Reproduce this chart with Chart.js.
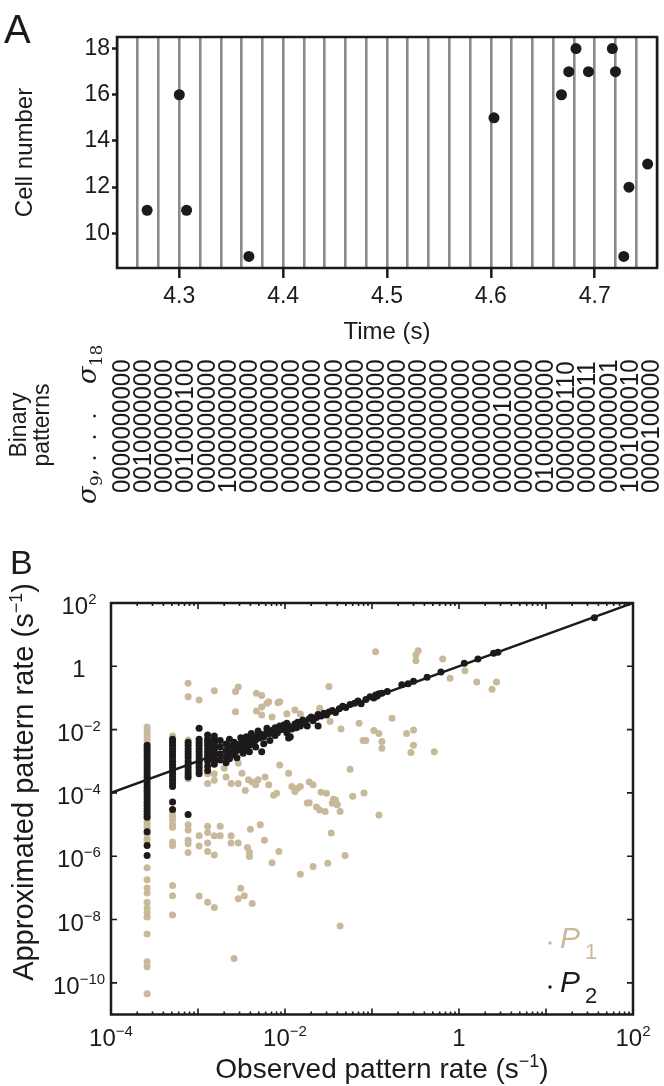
<!DOCTYPE html>
<html>
<head>
<meta charset="utf-8">
<script src="https://cdn.jsdelivr.net/npm/chart.js@4.4.1/dist/chart.umd.min.js"></script>
<style>
  html, body { margin: 0; padding: 0; background: #fff; }
  #page { position: relative; width: 664px; height: 1086px; overflow: hidden; }
  #wrapA { position: absolute; left: 0; top: 0; width: 664px; height: 520px; }
  #wrapB { position: absolute; left: 0; top: 540px; width: 664px; height: 546px; }
</style>
</head>
<body>
<div id="page">
  <div id="wrapA"><canvas id="chartA"></canvas></div>
  <div id="wrapB"><canvas id="chartB"></canvas></div>
</div>
<script>
// ---- panel A data ----
const spikeTimes = [4.269, 4.300, 4.307, 4.367, 4.603, 4.668, 4.675, 4.682, 4.694, 4.717, 4.720, 4.728, 4.733, 4.751];
const spikeCells = [11, 16, 11, 9, 15, 16, 17, 18, 17, 18, 17, 9, 12, 13];
const binEdges = [4.24, 4.26, 4.28, 4.30, 4.32, 4.34, 4.36, 4.38, 4.40, 4.42, 4.44, 4.46, 4.48,
                  4.50, 4.52, 4.54, 4.56, 4.58, 4.60, 4.62, 4.64, 4.66, 4.68, 4.70, 4.72, 4.74, 4.76];
const timeTickLabels = [4.3, 4.4, 4.5, 4.6, 4.7];
const cellTicks = [10, 12, 14, 16, 18];
// one string per bin, sigma_9 ... sigma_18
const binaryPatterns = [
  "0000000000", "0010000000", "0000000000", "0010000100", "0000000000", "1000000000",
  "0000000000", "0000000000", "0000000000", "0000000000", "0000000000", "0000000000",
  "0000000000", "0000000000", "0000000000", "0000000000", "0000000000", "0000000000",
  "0000001000", "0000000000", "0100000000", "0000000110", "0000000011", "0000000001",
  "1001000010", "0000100000"
];

// ---- panel B data ----
const rateTicksX = [1e-4, 1e-3, 1e-2, 1e-1, 1, 1e1, 1e2];
const rateLabelsX = [1e-4, 1e-2, 1, 1e2];
const rateTicksY = [1e2, 1, 1e-2, 1e-4, 1e-6, 1e-8, 1e-10];
const fitLine = [[1e-4, 1e-4], [1e2, 1e2]];

const p2Points = [
  [2.6e-4, 3.2e-3], [2.6e-4, 2.6e-3], [2.6e-4, 2.1e-3], [2.6e-4, 1.7e-3], [2.6e-4, 1.4e-3], [2.6e-4, 1.1e-3],
  [2.6e-4, 9e-4], [2.6e-4, 7.2e-4], [2.6e-4, 5.8e-4], [2.6e-4, 4.6e-4], [2.6e-4, 3.7e-4], [2.6e-4, 3e-4],
  [2.6e-4, 2.4e-4], [2.6e-4, 1.9e-4], [2.6e-4, 1.5e-4], [2.6e-4, 1.2e-4], [2.6e-4, 1e-4], [2.6e-4, 8e-5],
  [2.6e-4, 6.4e-5], [2.6e-4, 5.1e-5], [2.6e-4, 4.1e-5], [2.6e-4, 3.3e-5], [2.6e-4, 2.6e-5], [2.6e-4, 2.1e-5],
  [2.6e-4, 1.7e-5], [2.6e-4, 5.9e-6], [2.6e-4, 2.2e-6], [2.6e-4, 1.05e-6],
  [5.1e-4, 5e-3], [5.1e-4, 4e-3], [5.1e-4, 3.2e-3], [5.1e-4, 2.5e-3], [5.1e-4, 2e-3], [5.1e-4, 1.6e-3],
  [5.1e-4, 1.3e-3], [5.1e-4, 1e-3], [5.1e-4, 8e-4], [5.1e-4, 6.3e-4], [5.1e-4, 5e-4], [5.1e-4, 4e-4],
  [5.1e-4, 3.2e-4], [5.1e-4, 2.5e-4], [5.1e-4, 2e-4], [5.1e-4, 1.6e-4], [5.1e-4, 5.2e-5], [5.1e-4, 3e-5],
  [7.7e-4, 4e-3], [7.7e-4, 3.2e-3], [7.7e-4, 2.5e-3], [7.7e-4, 2e-3], [7.7e-4, 1.6e-3], [7.7e-4, 1.3e-3],
  [7.7e-4, 1e-3], [7.7e-4, 8e-4], [7.7e-4, 6.3e-4], [7.7e-4, 5e-4], [7.7e-4, 4e-4], [7.7e-4, 3.2e-4], [7.7e-4, 2.1e-5],
  [1.03e-3, 1.1e-2], [1.03e-3, 5e-3], [1.03e-3, 4e-3], [1.03e-3, 3.2e-3], [1.03e-3, 2.5e-3], [1.03e-3, 2e-3],
  [1.03e-3, 1.6e-3], [1.03e-3, 1.3e-3], [1.03e-3, 1e-3], [1.03e-3, 8e-4], [1.03e-3, 6.3e-4], [1.03e-3, 5e-4], [1.03e-3, 4e-4],
  [1.29e-3, 6.8e-3], [1.29e-3, 5e-3], [1.29e-3, 4e-3], [1.29e-3, 3.2e-3], [1.29e-3, 2.5e-3], [1.29e-3, 2e-3],
  [1.29e-3, 1.6e-3], [1.29e-3, 1.3e-3], [1.29e-3, 1e-3], [1.29e-3, 7e-4], [1.29e-3, 5e-4],
  [1.54e-3, 6.3e-3], [1.54e-3, 5e-3], [1.54e-3, 4e-3], [1.54e-3, 3.2e-3], [1.54e-3, 2.5e-3], [1.54e-3, 2e-3],
  [1.54e-3, 1.6e-3], [1.54e-3, 1.3e-3], [1.54e-3, 1e-3], [1.54e-3, 8e-4],
  [1.8e-3, 4.5e-3], [1.8e-3, 2.8e-3], [1.8e-3, 1.7e-3], [1.8e-3, 1.1e-3], [2.1e-3, 3.5e-3], [2.1e-3, 2.2e-3],
  [2.1e-3, 1.4e-3], [2.1e-3, 9e-4], [2.3e-3, 5e-3], [2.3e-3, 3e-3], [2.3e-3, 1.9e-3], [2.3e-3, 1.2e-3],
  [2.6e-3, 4e-3], [2.6e-3, 2.6e-3], [2.6e-3, 1.6e-3], [2.8e-3, 3.4e-3], [2.8e-3, 2.2e-3], [2.8e-3, 1.3e-3],
  [3.1e-3, 5.5e-3], [3.1e-3, 3.6e-3], [3.1e-3, 2.4e-3], [3.3e-3, 4.2e-3], [3.3e-3, 2.9e-3], [3.3e-3, 1.8e-3],
  [3.6e-3, 6e-3], [3.6e-3, 3.8e-3], [3.6e-3, 2.5e-3], [3.9e-3, 4.6e-3], [3.9e-3, 3.2e-3], [3.9e-3, 2e-3],
  [4.1e-3, 7.5e-3], [4.1e-3, 5e-3], [4.4e-3, 5.8e-3], [4.4e-3, 3.9e-3], [4.6e-3, 4.8e-3], [4.6e-3, 2.8e-3],
  [4.9e-3, 6.5e-3], [4.9e-3, 9e-3], [5.1e-3, 5.4e-3], [5.4e-3, 7e-3], [5.4e-3, 2e-3], [5.7e-3, 6e-3],
  [5.7e-3, 3.6e-3], [6.2e-3, 8.5e-3], [6.2e-3, 1.1e-2], [6.7e-3, 7.5e-3], [6.7e-3, 4.5e-3], [7.2e-3, 9.5e-3],
  [7.7e-3, 1.15e-2], [7.7e-3, 6.5e-3], [8.2e-3, 8e-3], [8.7e-3, 1.3e-2], [9.2e-3, 1e-2], [9.7e-3, 1.4e-2],
  [1.0e-2, 1.1e-2], [1.05e-2, 8e-3], [1.05e-2, 1.6e-2], [1.1e-2, 1.3e-2], [1.1e-2, 5.4e-3], [1.15e-2, 6e-3],
  [1.2e-2, 1.05e-2], [1.3e-2, 1.5e-2], [1.35e-2, 1.15e-2], [1.4e-2, 1.7e-2], [1.5e-2, 1.3e-2], [1.6e-2, 2e-2],
  [1.7e-2, 1.6e-2], [1.8e-2, 1.3e-2], [1.9e-2, 2.2e-2], [2e-2, 2.5e-2], [2.1e-2, 1.9e-2], [2.3e-2, 2.4e-2],
  [2.4e-2, 3e-2], [2.4e-2, 1.3e-2], [2.6e-2, 2.7e-2], [2.8e-2, 3.3e-2], [3e-2, 2.9e-2], [3.2e-2, 3.6e-2],
  [3.5e-2, 4e-2], [3.8e-2, 3.5e-2], [4.2e-2, 4.6e-2], [4.6e-2, 5.5e-2], [5e-2, 5e-2], [5.6e-2, 6.2e-2],
  [6.3e-2, 6.8e-2], [6.9e-2, 8e-2], [7.5e-2, 6.6e-2], [8.5e-2, 9e-2], [9.5e-2, 1.1e-1], [1.05e-1, 1e-1],
  [1.1e-1, 1.25e-1], [1.15e-1, 1.15e-1], [1.2e-1, 1.35e-1], [1.3e-1, 1.4e-1], [1.5e-1, 1.6e-1], [2.2e-1, 2.6e-1],
  [2.6e-1, 2.8e-1], [3e-1, 3.4e-1], [4.3e-1, 4.5e-1], [6.2e-1, 6.6e-1], [1.15, 1.25], [1.65, 1.7],
  [2.5, 2.6], [2.8, 2.8], [36, 34]
];

const p1Points = [
  [2.6e-4, 1.2e-2], [2.6e-4, 1e-2], [2.6e-4, 7.9e-3], [2.6e-4, 6.3e-3], [2.6e-4, 5e-3], [2.6e-4, 3.8e-3],
  [2.6e-4, 1.6e-5], [2.6e-4, 1.26e-5], [2.6e-4, 1e-5], [2.6e-4, 7.9e-6], [2.6e-4, 5e-6], [2.6e-4, 3.5e-6],
  [2.6e-4, 2.8e-6], [2.6e-4, 4.3e-7], [2.6e-4, 1.8e-7], [2.6e-4, 1e-7], [2.6e-4, 6.9e-8], [2.6e-4, 3.5e-8],
  [2.6e-4, 2.3e-8], [2.6e-4, 1.7e-8], [2.6e-4, 1.2e-8], [2.6e-4, 3.5e-9], [2.6e-4, 4.6e-10], [2.6e-4, 3.2e-10],
  [2.6e-4, 4.5e-11],
  [5.1e-4, 6.3e-3], [5.1e-4, 2.3e-5], [5.1e-4, 1.8e-5], [5.1e-4, 1.4e-5], [5.1e-4, 1e-5], [5.1e-4, 8.3e-6],
  [5.1e-4, 2.8e-6], [5.1e-4, 2.2e-6], [5.1e-4, 1.2e-7], [5.1e-4, 5.6e-8], [5.1e-4, 1.4e-8],
  [7.7e-4, 0.29], [7.7e-4, 0.11], [7.7e-4, 4.7e-3], [7.7e-4, 3.5e-4], [7.7e-4, 2.8e-4], [7.7e-4, 9.8e-6],
  [7.7e-4, 6.8e-6], [7.7e-4, 3.2e-6], [7.7e-4, 2.5e-6], [7.7e-4, 1.3e-6],
  [1.03e-3, 8.7e-2], [1.03e-3, 6.3e-4], [1.03e-3, 4.4e-6], [1.03e-3, 2.1e-6], [1.03e-3, 5.5e-8],
  [1.29e-3, 4e-4], [1.29e-3, 2e-4], [1.29e-3, 8.9e-6], [1.29e-3, 5.6e-6], [1.29e-3, 2.6e-6], [1.29e-3, 1.4e-6],
  [1.29e-3, 3.5e-8],
  [1.54e-3, 0.17], [1.54e-3, 4e-4], [1.54e-3, 2.5e-4], [1.54e-3, 4.4e-6], [1.54e-3, 1.1e-6], [1.54e-3, 2.4e-8],
  [1.8e-3, 8.9e-6], [1.8e-3, 4.4e-6], [2.1e-3, 3.2e-4], [2.0e-3, 6e-4],
  [2.7e-3, 0.16], [2.9e-3, 0.22], [2.7e-3, 3.7e-2], [4.7e-3, 0.14], [5.4e-3, 0.12], [6.5e-3, 7.6e-2],
  [5.4e-3, 5.2e-2], [4.7e-3, 3.9e-2], [5.4e-3, 2.9e-2], [7.1e-3, 2.5e-2], [8.3e-3, 7.1e-2], [6.2e-3, 6.8e-2],
  [2.4e-3, 2e-4], [2.9e-3, 8.7e-4], [3.2e-3, 4.2e-4], [2.9e-3, 2e-4], [3.8e-3, 2.6e-4], [4.2e-3, 2.2e-4],
  [3.5e-3, 1.2e-4], [4.6e-3, 1.8e-4], [4.9e-3, 2.6e-4], [6.5e-3, 1.8e-4], [8e-3, 9.8e-5], [5.9e-3, 3.2e-4],
  [8.7e-3, 7.6e-4], [1.1e-2, 4.2e-4], [7.4e-3, 8.5e-5],
  [5.6e-2, 5.6e-4], [1.9e-2, 2.2e-4], [2.1e-2, 1.8e-4], [1.3e-2, 1.1e-4], [1.4e-2, 1.4e-4], [2.6e-2, 1.05e-4],
  [3e-2, 9.8e-5], [6e-2, 7.9e-5], [8.1e-2, 1e-4], [3.6e-2, 6.3e-5], [3.5e-2, 4.7e-5], [3.9e-2, 4.5e-5],
  [1.9e-2, 4.9e-5], [2.5e-2, 2.9e-5], [4.3e-2, 2.6e-5], [0.12, 2e-5], [1.2e-2, 1.6e-4], [1.5e-2, 1.6e-4],
  [1.8e-2, 4.8e-5], [2.3e-2, 3.6e-5], [2.9e-2, 2.6e-5], [3.8e-2, 6e-5], [4e-2, 4.2e-5],
  [3.4e-2, 5.4e-6], [4.9e-2, 1.05e-6], [3.1e-2, 6e-7], [2.1e-2, 4.7e-7], [1.5e-2, 2.7e-7], [8.5e-3, 1.4e-6],
  [4.3e-2, 6.3e-9],
  [1.05e-2, 3.2e-2], [1.3e-2, 4.2e-2], [1.5e-2, 3.1e-2], [3.3e-2, 1.8e-2], [4.4e-2, 1.05e-2], [7.1e-2, 1.6e-2],
  [0.17, 2.3e-2], [0.105, 9.3e-3], [0.12, 7.6e-3], [0.13, 4.2e-3], [0.13, 2.6e-3], [7.9e-2, 4.5e-3],
  [8.5e-2, 4.5e-3], [0.25, 7.6e-3], [0.30, 9.8e-3], [0.30, 3.2e-3], [0.28, 1.9e-3], [0.52, 2e-3],
  [3.2e-2, 0.23], [0.11, 2.9], [0.34, 3.1], [0.32, 2.3], [0.32, 1.5], [0.65, 1.7], [1.17, 0.72],
  [0.79, 0.42], [1.6, 0.32], [2.4, 0.19], [2.7, 0.32], [8.7e-3, 7.6e-2], [2.5e-2, 4.7e-2],
  [2.4e-3, 4.4e-6], [2.4e-3, 2.6e-6], [2.9e-3, 2.6e-6], [3.7e-3, 1.9e-6], [3.9e-3, 1.3e-6], [3.9e-3, 9.8e-7],
  [4e-3, 7.1e-6], [5.2e-3, 9.8e-6], [5.8e-3, 3.2e-6], [7.1e-3, 6.2e-7],
  [2.9e-3, 4.5e-8], [3.1e-3, 9.8e-8], [3.4e-3, 5.6e-8], [4.2e-3, 3.2e-8], [2.6e-3, 5.9e-10]
];

const FONT = "'Liberation Sans', Arial, Helvetica, sans-serif";
const SERIF = "'DejaVu Serif', 'Liberation Serif', serif";
const INK = "#1c1a1a";
const TAN = "#c9b99b";
const GRID = "#8a8a8a";

function isLabelledTime(v) {
  return timeTickLabels.some(t => Math.abs(t - v) < 1e-6);
}

// frame, binary words and labels for panel A
const panelAExtras = {
  id: "panelAExtras",
  beforeDatasetsDraw(chart) {
    const a = chart.chartArea;
    const ctx = chart.ctx;
    ctx.save();
    ctx.strokeStyle = INK;
    ctx.lineWidth = 2.5;
    ctx.strokeRect(a.left, a.top, a.right - a.left, a.bottom - a.top);
    ctx.restore();
  },
  afterDraw(chart) {
    const ctx = chart.ctx;
    const a = chart.chartArea;
    ctx.save();
    ctx.fillStyle = INK;

    ctx.font = "40px " + FONT;
    ctx.textBaseline = "alphabetic";
    ctx.fillText("A", 4, 43);

    // binary words, one column per bin, read from bottom (sigma_9) to top
    const left = a.left + 6, right = a.right - 5;
    const step = (right - left) / (binaryPatterns.length - 1);
    ctx.font = "24px " + FONT;
    ctx.textAlign = "left";
    ctx.textBaseline = "middle";
    binaryPatterns.forEach((word, k) => {
      ctx.save();
      ctx.translate(left + k * step, 493);
      ctx.rotate(-Math.PI / 2);
      ctx.scale(1, 1.05);
      ctx.fillText(word, 0, 0);
      ctx.restore();
    });

    // sigma labels
    ctx.save();
    ctx.translate(90, 384);
    ctx.rotate(-Math.PI / 2);
    ctx.textBaseline = "alphabetic";
    ctx.font = "italic 26px " + SERIF;
    ctx.fillText("\u03c3", 0, 6);
    let w = ctx.measureText("\u03c3").width;
    ctx.font = "17px " + SERIF;
    ctx.fillText("18", w, 12);
    ctx.restore();

    ctx.save();
    ctx.translate(90, 504);
    ctx.rotate(-Math.PI / 2);
    ctx.textBaseline = "alphabetic";
    ctx.font = "italic 26px " + SERIF;
    ctx.fillText("\u03c3", 0, 6);
    w = ctx.measureText("\u03c3").width;
    ctx.font = "17px " + SERIF;
    ctx.fillText("9", w, 12);
    const w9 = ctx.measureText("9").width;
    ctx.font = "22px " + SERIF;
    ctx.fillText(", .  .  .", w + w9, 6);
    ctx.restore();

    ctx.font = "23px " + FONT;
    ctx.textAlign = "center";
    ctx.textBaseline = "middle";
    [["Binary", 20], ["patterns", 43]].forEach(([txt, x]) => {
      ctx.save();
      ctx.translate(x, 425);
      ctx.rotate(-Math.PI / 2);
      ctx.fillText(txt, 0, 0);
      ctx.restore();
    });
    ctx.restore();
  }
};

new Chart(document.getElementById("chartA"), {
  type: "scatter",
  data: {
    datasets: [{
      label: "spikes",
      data: spikeTimes.map((t, i) => ({ x: t, y: spikeCells[i] })),
      backgroundColor: INK,
      borderWidth: 0,
      pointRadius: 5.5
    }]
  },
  options: {
    responsive: true,
    maintainAspectRatio: false,
    animation: false,
    layout: { padding: { top: 37, right: 7, bottom: 173, left: 0 } },
    plugins: { legend: { display: false }, tooltip: { enabled: false } },
    scales: {
      x: {
        type: "linear",
        min: 4.24,
        max: 4.76,
        afterBuildTicks: axis => { axis.ticks = binEdges.map(v => ({ value: v })); },
        afterFit: axis => { axis.height = 79; },
        grid: {
          color: GRID,
          lineWidth: 2.6,
          tickLength: 10,
          tickWidth: 2.5,
          tickColor: c => (c.tick && isLabelledTime(c.tick.value)) ? INK : "rgba(0,0,0,0)"
        },
        border: { display: false },
        ticks: {
          autoSkip: false,
          maxRotation: 0,
          padding: 5,
          color: INK,
          font: { family: FONT, size: 23 },
          callback: v => isLabelledTime(v) ? v.toFixed(1) : ""
        },
        title: { display: true, text: "Time (s)", color: INK, font: { family: FONT, size: 24 }, padding: { top: 0, bottom: 0 } }
      },
      y: {
        type: "linear",
        min: 8.5,
        max: 18.5,
        afterBuildTicks: axis => { axis.ticks = cellTicks.map(v => ({ value: v })); },
        afterFit: axis => { axis.width = 117; },
        grid: { drawOnChartArea: false, tickLength: 5, tickWidth: 2.5, tickColor: INK },
        border: { display: false },
        ticks: { padding: 2, color: INK, font: { family: FONT, size: 23 } },
        title: { display: true, text: "Cell number", color: INK, font: { family: FONT, size: 24 }, padding: { top: 11, bottom: 0 } }
      }
    }
  },
  plugins: [panelAExtras]
});

// ---- panel B helpers ----
function expParts(v) {
  const e = Math.round(Math.log10(v));
  if (e === 0) return { base: "1", sup: "" };
  return { base: "10", sup: (e < 0 ? "\u2212" : "") + Math.abs(e) };
}

function drawPower(ctx, v, cx, baseline, size, supSize, raise) {
  const p = expParts(v);
  ctx.font = size + "px " + FONT;
  const wb = ctx.measureText(p.base).width;
  ctx.font = supSize + "px " + FONT;
  const ws = p.sup ? ctx.measureText(p.sup).width : 0;
  const x0 = cx - (wb + ws) / 2;
  ctx.textAlign = "left";
  ctx.font = size + "px " + FONT;
  ctx.fillText(p.base, x0, baseline);
  if (p.sup) {
    ctx.font = supSize + "px " + FONT;
    ctx.fillText(p.sup, x0 + wb, baseline - raise);
  }
}

function drawUnitTitle(ctx, main, size, supSize, raise) {
  // "main (s^-1)" centred on the current origin
  ctx.font = size + "px " + FONT;
  const w1 = ctx.measureText(main + " (s").width;
  const w3 = ctx.measureText(")").width;
  ctx.font = supSize + "px " + FONT;
  const w2 = ctx.measureText("\u22121").width;
  let x = -(w1 + w2 + w3) / 2;
  ctx.textAlign = "left";
  ctx.font = size + "px " + FONT;
  ctx.fillText(main + " (s", x, 0);
  x += w1;
  ctx.font = supSize + "px " + FONT;
  ctx.fillText("\u22121", x, -raise);
  x += w2;
  ctx.font = size + "px " + FONT;
  ctx.fillText(")", x, 0);
}

const panelBExtras = {
  id: "panelBExtras",
  afterDatasetsDraw(chart) {
    const ctx = chart.ctx;
    const a = chart.chartArea;
    const xs = chart.scales.x, ys = chart.scales.y;
    ctx.save();
    ctx.strokeStyle = INK;
    ctx.lineWidth = 2.5;
    ctx.strokeRect(a.left, a.top, a.right - a.left, a.bottom - a.top);

    ctx.lineWidth = 1.6;
    ctx.beginPath();
    rateTicksX.forEach(v => {
      const px = xs.getPixelForValue(v);
      ctx.moveTo(px, a.bottom); ctx.lineTo(px, a.bottom - 6);
      ctx.moveTo(px, a.top); ctx.lineTo(px, a.top + 6);
    });
    for (let d = 0; d < rateTicksX.length - 1; d++) {
      for (let m = 2; m <= 9; m++) {
        const px = xs.getPixelForValue(m * rateTicksX[d]);
        ctx.moveTo(px, a.bottom); ctx.lineTo(px, a.bottom - 3);
        ctx.moveTo(px, a.top); ctx.lineTo(px, a.top + 3);
      }
    }
    rateTicksY.forEach(v => {
      const py = ys.getPixelForValue(v);
      ctx.moveTo(a.left, py); ctx.lineTo(a.left + 6, py);
      ctx.moveTo(a.right, py); ctx.lineTo(a.right - 6, py);
    });
    ctx.stroke();
    ctx.restore();
  },
  afterDraw(chart) {
    const ctx = chart.ctx;
    const a = chart.chartArea;
    const xs = chart.scales.x, ys = chart.scales.y;
    ctx.save();
    ctx.fillStyle = INK;
    ctx.textBaseline = "alphabetic";

    ctx.font = "34px " + FONT;
    ctx.fillText("B", 10, 34);

    rateLabelsX.forEach(v => {
      drawPower(ctx, v, xs.getPixelForValue(v), a.bottom + 31, 24, 15, 10);
    });
    rateTicksY.forEach(v => {
      drawPower(ctx, v, 79, ys.getPixelForValue(v) + 11, 24, 15, 10);
    });

    ctx.save();
    ctx.translate(382, 538);
    drawUnitTitle(ctx, "Observed pattern rate", 28, 18, 11);
    ctx.restore();

    ctx.save();
    ctx.translate(33, 242);
    ctx.rotate(-Math.PI / 2);
    drawUnitTitle(ctx, "Approximated pattern rate", 29, 18, 11);
    ctx.restore();

    // legend
    [[TAN, "1", 403, 408], [INK, "2", 447, 452]].forEach(([col, sub, dotY, base]) => {
      ctx.fillStyle = col;
      ctx.beginPath();
      ctx.arc(550, dotY, 1.7, 0, Math.PI * 2);
      ctx.fill();
      ctx.font = "italic 30px " + FONT;
      ctx.textAlign = "left";
      ctx.fillText("P", 560, base);
      ctx.font = "22px " + FONT;
      ctx.fillText(sub, 585, base + 11);
    });
    ctx.restore();
  }
};

new Chart(document.getElementById("chartB"), {
  type: "scatter",
  data: {
    datasets: [
      {
        label: "fit",
        data: fitLine.map(p => ({ x: p[0], y: p[1] })),
        showLine: true,
        borderColor: INK,
        borderWidth: 2.5,
        pointRadius: 0
      },
      {
        label: "P2",
        data: p2Points.map(p => ({ x: p[0], y: p[1] })),
        backgroundColor: INK,
        borderWidth: 0,
        pointRadius: 3.5
      },
      {
        label: "P1",
        data: p1Points.map(p => ({ x: p[0], y: p[1] })),
        backgroundColor: TAN,
        borderWidth: 0,
        pointRadius: 3.5
      }
    ]
  },
  options: {
    responsive: true,
    maintainAspectRatio: false,
    animation: false,
    layout: { padding: { top: 63, right: 31, bottom: 71.5, left: 111 } },
    plugins: { legend: { display: false }, tooltip: { enabled: false } },
    scales: {
      x: { type: "logarithmic", min: 1e-4, max: 1e2, display: false },
      y: { type: "logarithmic", min: 1e-11, max: 1e2, display: false }
    }
  },
  plugins: [panelBExtras]
});
</script>
</body>
</html>
